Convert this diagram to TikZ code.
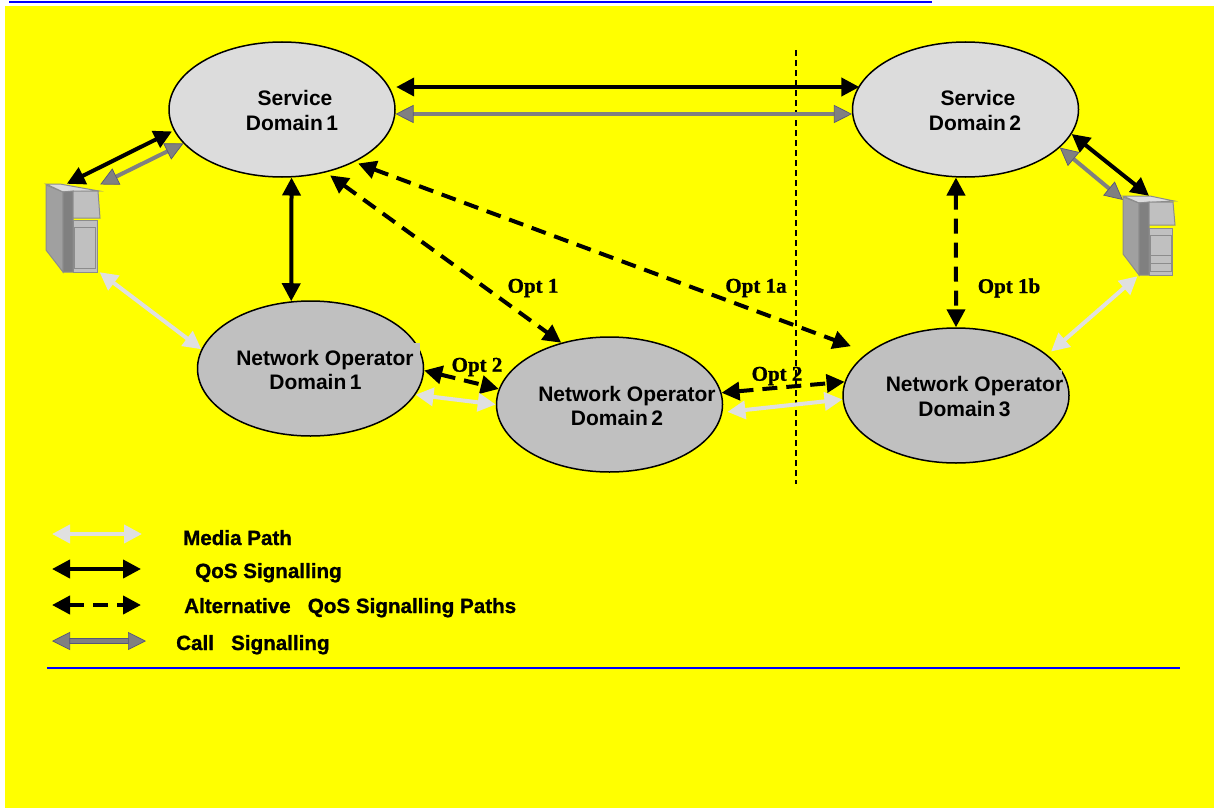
\documentclass[tikz,border=0pt]{standalone}
\usepackage{fontspec}
\setmainfont{Liberation Sans}
\newfontfamily\domfont{Liberation Sans Bold}
\newfontfamily\legfont[FakeBold=1]{Liberation Sans Bold}
\newfontfamily\optfont[FakeBold=1]{Liberation Serif Bold}
\usetikzlibrary{arrows.meta,shapes.geometric}
\definecolor{bgyellow}{HTML}{FFFF00}
\definecolor{sdfill}{HTML}{DCDCDC}
\definecolor{ndfill}{HTML}{C0C0C0}
\definecolor{mediacol}{HTML}{E0E0E0}
\definecolor{callcol}{HTML}{808080}
\definecolor{srvedge}{HTML}{8C8C8C}
\definecolor{srvside}{HTML}{A0A0A0}
\definecolor{callrim}{HTML}{56567A}
\tikzset{
  sdom/.style={ellipse,draw=black,line width=1.5pt,fill=sdfill,minimum width=226pt,minimum height=135pt,inner sep=0pt},
  ndom/.style={ellipse,draw=black,line width=1.5pt,fill=ndfill,minimum width=226pt,minimum height=135pt,inner sep=0pt},
  sdtxt/.style={align=center,font=\domfont\fontsize{21}{24.5}\selectfont,inner sep=0pt},
  opttxt/.style={font=\optfont\fontsize{21}{24}\selectfont,inner sep=0pt},
  legtxt/.style={anchor=base west,font=\legfont\fontsize{20.6}{24}\selectfont,inner sep=0pt},
  srvbox/.style={minimum width=54pt,minimum height=88pt,inner sep=0pt},
  srvpart/.style={draw=srvedge,line width=1pt,fill=ndfill},
  sig/.style={line width=4pt,{Triangle[length=18pt,width=18pt]}-{Triangle[length=18pt,width=18pt]}},
  qossig/.style={sig,draw=black},
  altsig/.style={sig,draw=black,dash pattern=on 15pt off 9pt},
  callsig/.style={sig,draw=callcol,{Triangle[length=18pt,width=18pt,color=callrim,fill=callcol,line width=0.7pt]}-{Triangle[length=18pt,width=18pt,color=callrim,fill=callcol,line width=0.7pt]}},
  mediapath/.style={sig,draw=mediacol},
  divider/.style={draw=black,line width=1.5pt,dash pattern=on 6pt off 4pt},
  bluerule/.style={draw=blue,line width=2.5pt}
}
\begin{document}
\begin{tikzpicture}[x=1pt,y=-1pt]
\useasboundingbox (0,0) rectangle (1214,808);
\fill[bgyellow] (5,6) rectangle (1214,808);
\coordinate (topa) at (9,2);
\coordinate (topb) at (932,2);
\draw[bluerule] (topa) -- (topb);

\node[sdom] (sd1) at (282,109.5) {};
\node[sdom] (sd2) at (965.5,109.5) {};
\node[ndom] (nd1) at (310.5,368.5) {};
\node[ndom] (nd2) at (609.5,404.5) {};
\node[ndom] (nd3) at (956,395.5) {};
\fill[ndfill] (408,343) rectangle (420,354);
\fill[ndfill] (1052,370) rectangle (1062,380);
\node[sdtxt] (sd1txt) at (295,110.5) {Service\\Domain\,1\hspace*{6pt}};
\node[sdtxt] (sd2txt) at (978,110.5) {Service\\Domain\,2\hspace*{6pt}};
\node[sdtxt] (nd1txt) at (325,370) {Network Operator\\Domain\,1\hspace*{19pt}};
\node[sdtxt] (nd2txt) at (627,406) {Network Operator\\Domain\,2\hspace*{20pt}};
\node[sdtxt] (nd3txt) at (974.5,396.5) {Network Operator\\Domain\,3\hspace*{20pt}};

\node[srvbox] (srv1) at (73,228) {};
\node[srvbox,minimum width=52pt,minimum height=80pt] (srv2) at (1149,236) {};

\fill[srvpart,fill=srvside] (46,185) -- (63,192) -- (63,272) -- (46,250) -- cycle;
\fill[srvpart,fill=sdfill] (46,184) -- (60,184) -- (99,191) -- (63,192) -- cycle;
\fill[srvpart,fill=callcol] (63,192) -- (73,191) -- (73,272) -- (63,272) -- cycle;
\fill[srvpart] (73,191) -- (98,191) -- (100,218) -- (73,218) -- cycle;
\fill[srvpart] (73,220) rectangle (97,272);
\draw[srvpart] (74.5,227) rectangle (95.5,268);

\fill[srvpart,fill=srvside] (1123,197) -- (1139,203) -- (1139,275) -- (1123,254) -- cycle;
\fill[srvpart,fill=sdfill] (1123,196) -- (1150,196) -- (1174,201) -- (1139,203) -- cycle;
\fill[srvpart,fill=callcol] (1139,203) -- (1149,202) -- (1149,275) -- (1139,275) -- cycle;
\fill[srvpart] (1149,202) -- (1173,202) -- (1175,225) -- (1149,225) -- cycle;
\fill[srvpart] (1149,228) rectangle (1172,275);
\draw[srvpart] (1150,235) -- (1171,235) -- (1171,271) -- (1150,271) -- cycle;
\draw[srvpart] (1150,255) -- (1171,255);
\draw[srvpart] (1150,263) -- (1171,263);

\coordinate (divtop) at (796,50);
\coordinate (divbot) at (796,484);
\draw[divider] (divtop) -- (divbot);

\coordinate (qosrow) at (0,87);
\coordinate (callrow) at (0,114);
\draw[qossig,shorten <=7pt] (sd1.12.2 |- qosrow) -- (sd2.167.8 |- qosrow);
\draw[callsig] (sd1.-2 |- callrow) -- (sd2.182 |- callrow);
\draw[qossig,shorten >=2pt] (srv1.98.8) -- (sd1.191.1);
\draw[callsig] (srv1.58) -- (sd1.199.3);
\draw[qossig] (sd1.-82.3) -- (nd1.106.2);
\draw[altsig,shorten <=5pt] (sd1.-55) -- (nd2.128.3);
\draw[altsig,shorten <=4pt,shorten >=18pt] (sd1.-36.1) -- (nd3.154.1);
\draw[altsig] (sd2.-98) -- (nd3.90);
\draw[qossig] (sd2.-13.1) -- (srv2.90);
\draw[callsig] (sd2.-22.9) -- (srv2.126);
\draw[mediapath] (srv1.-59) -- (nd1.170.2);
\draw[mediapath,shorten >=5pt] (srv2.-106) -- (nd3.24.8);
\draw[altsig] (nd1.-1.8) -- (nd2.172.2);
\draw[mediapath] (nd1.-14.7) -- (nd2.180);
\draw[altsig] (nd2.6.8) -- (nd3.173.2);
\draw[mediapath,shorten <=5pt] (nd2.-4.1) -- (nd3.182.8);

\node[opttxt] (opt1) at (533,288) {Opt 1};
\node[opttxt] (opt1a) at (756,288) {Opt 1a};
\node[opttxt] (opt1b) at (1009,288) {Opt 1b};
\node[opttxt] (opt2a) at (477,367) {Opt 2};
\node[opttxt] (opt2b) at (777,376) {Opt 2};

\coordinate (leg1a) at (52,534);
\coordinate (leg1b) at (142,534);
\coordinate (leg2a) at (52,569);
\coordinate (leg2b) at (141,569);
\coordinate (leg3a) at (52,605);
\coordinate (leg3b) at (141,605);
\coordinate (leg4a) at (52,641);
\coordinate (leg4b) at (146,641);
\draw[mediapath] (leg1a) -- (leg1b);
\draw[qossig] (leg2a) -- (leg2b);
\draw[altsig] (leg3a) -- (leg3b);
\draw[callsig,preaction={draw=callrim,line width=5.5pt,-,shorten <=10pt,shorten >=10pt}] (leg4a) -- (leg4b);
\node[legtxt] (legmedia) at (183,545) {Media Path};
\node[legtxt] (legqos) at (195,578) {QoS Signalling};
\node[legtxt] (legalt) at (184,613) {Alternative\ \ \ QoS Signalling Paths};
\node[legtxt] (legcall) at (176,650) {Call\ \ \ Signalling};

\coordinate (rulea) at (47,667.5);
\coordinate (ruleb) at (1180,667.5);
\draw[bluerule,line width=2pt] (rulea) -- (ruleb);
\end{tikzpicture}
\end{document}
